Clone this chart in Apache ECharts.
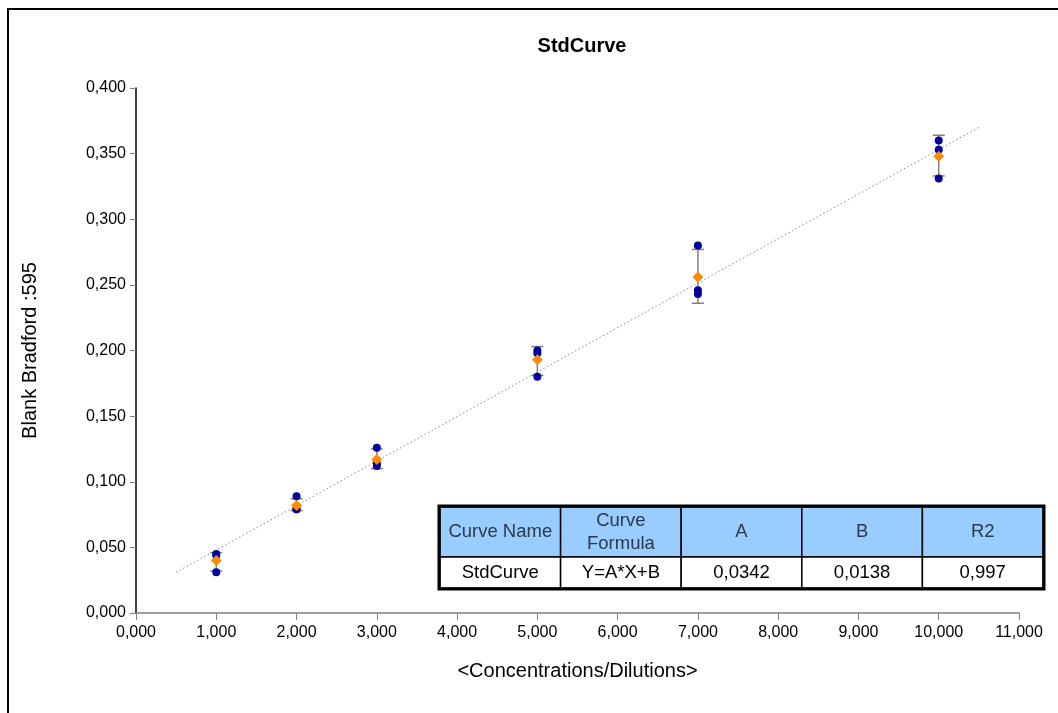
<!DOCTYPE html>
<html>
<head>
<meta charset="utf-8">
<script src="https://cdn.jsdelivr.net/npm/echarts@6/dist/echarts.min.js"></script>
<style>html,body{margin:0;padding:0;background:#fff;}#c{width:1058px;height:713px;}</style>
</head>
<body>
<div id="c"></div>
<script>
// ---- data ----
const concentrations = [1, 2, 3, 5, 7, 10];
const rep1 = [0.045, 0.089, 0.126, 0.200, 0.280, 0.360];
const rep2 = [0.044, 0.079, 0.114, 0.198, 0.246, 0.353];
const rep3 = [0.031, 0.079, 0.112, 0.180, 0.243, 0.331];
const means = [0.040, 0.082, 0.117, 0.193, 0.256, 0.348];
const errLow = [0.032, 0.078, 0.110, 0.181, 0.236, 0.333];
const errHigh = [0.046, 0.087, 0.125, 0.203, 0.277, 0.364];
const trendX = [0.5, 10.5];
const trendY = [0.031, 0.370];
const tableHeaders = ['Curve Name', 'Curve\nFormula', 'A', 'B', 'R2'];
const tableRow = ['StdCurve', 'Y=A*X+B', '0,0342', '0,0138', '0,997'];

const FONT = '"Liberation Sans", Arial, sans-serif';
const fmt = v => v.toFixed(3).replace('.', ',');

const repPoints = [];
[rep1, rep2, rep3].forEach(r => r.forEach((v, i) => repPoints.push([concentrations[i], v])));
const meanPoints = concentrations.map((x, i) => [x, means[i]]);
const errData = concentrations.map((x, i) => [x, errLow[i], errHigh[i]]);
const trendData = trendX.map((x, i) => [x, trendY[i]]);

// table graphics
const tX = 440, colW = 120.6, hTop = 507, hH = 50, rH = 31;
const tableEls = [];
tableHeaders.forEach((h, i) => {
  tableEls.push({type:'rect', shape:{x:tX + i*colW, y:hTop, width:colW, height:hH},
    style:{fill:'#99ccff', stroke:'#000', lineWidth:1.5}});
  tableEls.push({type:'text', x:tX + i*colW + colW/2, y:hTop + hH/2,
    style:{text:h, font:'18.5px ' + FONT, fill:'#2b3a4a', align:'center', verticalAlign:'middle', lineHeight:23}});
  tableEls.push({type:'rect', shape:{x:tX + i*colW, y:hTop+hH, width:colW, height:rH},
    style:{fill:'#fff', stroke:'#000', lineWidth:1.5}});
  tableEls.push({type:'text', x:tX + i*colW + colW/2, y:hTop + hH + rH/2,
    style:{text:tableRow[i], font:'18.5px ' + FONT, fill:'#000', align:'center', verticalAlign:'middle'}});
});
tableEls.push({type:'rect', shape:{x:tX-1, y:hTop-1, width:colW*5+2, height:hH+rH+2},
  style:{fill:'none', stroke:'#000', lineWidth:3}, z:110});

const chart = echarts.init(document.getElementById('c'));
chart.setOption({
  animation: false,
  backgroundColor: '#fff',
  title: {text:'StdCurve', left:577, top:31, textAlign:'center',
    textStyle:{fontFamily:FONT, fontSize:20, fontWeight:'bold', color:'#000'}},
  grid: {left:136, top:88, right:39, bottom:100},
  xAxis: {
    type:'value', min:0, max:11, interval:1,
    name:'<Concentrations/Dilutions>', nameLocation:'middle', nameGap:48,
    nameTextStyle:{fontFamily:FONT, fontSize:20, color:'#000'},
    axisLine:{lineStyle:{color:'#808080', width:1.5}},
    axisTick:{show:true, length:7, lineStyle:{color:'#808080'}},
    axisLabel:{formatter:fmt, fontFamily:FONT, fontSize:16, color:'#000', margin:12},
    splitLine:{show:false}
  },
  yAxis: {
    type:'value', min:0, max:0.4, interval:0.05,
    name:'Blank Bradford :595', nameLocation:'middle', nameGap:96, nameRotate:90,
    nameTextStyle:{fontFamily:FONT, fontSize:20, color:'#000'},
    axisLine:{show:true, lineStyle:{color:'#000', width:1.5}},
    axisTick:{show:true, length:6, lineStyle:{color:'#808080'}},
    axisLabel:{formatter:fmt, fontFamily:FONT, fontSize:16, color:'#000', margin:10},
    splitLine:{show:false}
  },
  graphic: [
    {type:'rect', shape:{x:8, y:9, width:1200, height:900}, style:{fill:'none', stroke:'#000', lineWidth:2}, z:100},
    {type:'group', children: tableEls, z:100}
  ],
  series: [
    {type:'line', data:trendData, symbol:'none', silent:true, z:1,
      lineStyle:{color:'#888', width:1, type:[1.5,2.5]}},
    {type:'custom', data:errData, z:2,
      renderItem: function(params, api){
        const x = api.value(0);
        const lo = api.coord([x, api.value(1)]);
        const hi = api.coord([x, api.value(2)]);
        const cw = 6;
        const st = {stroke:'#808080', lineWidth:1.5};
        return {type:'group', children:[
          {type:'line', shape:{x1:lo[0], y1:lo[1], x2:hi[0], y2:hi[1]}, style:st},
          {type:'line', shape:{x1:lo[0]-cw, y1:lo[1], x2:lo[0]+cw, y2:lo[1]}, style:st},
          {type:'line', shape:{x1:hi[0]-cw, y1:hi[1], x2:hi[0]+cw, y2:hi[1]}, style:st}
        ]};
      }},
    {type:'scatter', data:repPoints, symbol:'circle', symbolSize:8, z:3,
      itemStyle:{color:'#00009c', opacity:1}},
    {type:'scatter', data:meanPoints, symbol:'diamond', symbolSize:11, z:4,
      itemStyle:{color:'#ff8c00', opacity:1}}
  ]
});
</script>
</body>
</html>
